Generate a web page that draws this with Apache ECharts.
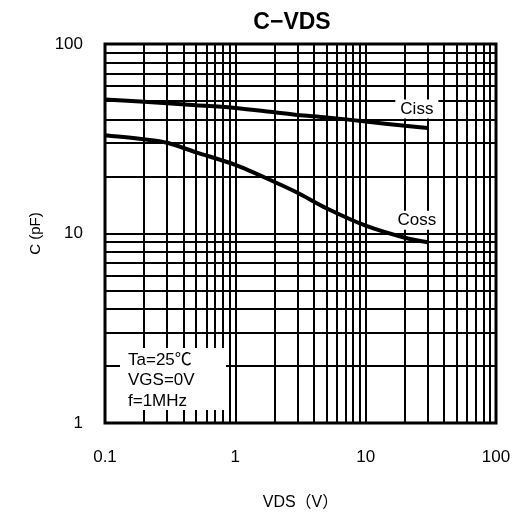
<!DOCTYPE html>
<html>
<head>
<meta charset="utf-8">
<script src="https://cdn.jsdelivr.net/npm/echarts@6/dist/echarts.min.js"></script>
<style>
  html, body { margin: 0; padding: 0; background: #fff; }
  #chart { width: 517px; height: 519px; }
</style>
</head>
<body>
<div id="chart"></div>
<script>
// Drain-source voltage samples (V)
const vds = [0.1, 0.2, 0.3, 0.5, 1, 2, 3, 5, 10, 20, 30];
// Input capacitance (pF)
const ciss = [51, 49.6, 48.7, 47.5, 46, 43.6, 42.2, 41, 39, 37, 36];
// Output capacitance (pF)
const coss = [33, 31.4, 30.1, 26.8, 23, 18.7, 16.4, 13.6, 11, 9.5, 9];

// Axis ticks
const xTicks = [0.1, 1, 10, 100];
const yTicks = [1, 10, 100];

// Minor grid positions (2..9 within each decade)
const xMinor = [];
[0.1, 1, 10].forEach(d => { for (let k = 2; k <= 9; k++) xMinor.push(+(d * k).toPrecision(3)); });
const yMinor = [];
[1, 10].forEach(d => { for (let k = 2; k <= 9; k++) yMinor.push(+(d * k).toPrecision(3)); });

const FONT = '"Liberation Sans", Arial, "Noto Sans CJK JP", sans-serif';

const chart = echarts.init(document.getElementById('chart'), null, { renderer: 'canvas' });

const gridLines = [];
xMinor.concat(xTicks).forEach(v => gridLines.push({ xAxis: v }));
yMinor.concat(yTicks).forEach(v => gridLines.push({ yAxis: v }));

chart.setOption({
  animation: false,
  backgroundColor: '#fff',
  textStyle: { fontFamily: FONT },
  grid: { left: 105, right: 21, top: 44, bottom: 96, containLabel: false },
  xAxis: {
    type: 'log', logBase: 10, min: 0.1, max: 100,
    name: 'VDS（V）', nameLocation: 'middle', nameGap: 72,
    nameTextStyle: { fontSize: 16, color: '#000', fontFamily: FONT },
    axisLine: { show: false },
    axisTick: { show: false },
    splitLine: { show: false },
    axisLabel: {
      color: '#000', fontSize: 17, margin: 26, fontFamily: FONT,
      formatter: v => {
        const t = xTicks.find(x => Math.abs(x - v) / x < 1e-6);
        return t === undefined ? '' : String(t);
      }
    }
  },
  yAxis: {
    type: 'log', logBase: 10, min: 1, max: 100,
    name: 'C (pF)', nameLocation: 'middle', nameGap: 49,
    nameTextStyle: { fontSize: 15, color: '#000', fontFamily: FONT },
    axisLine: { show: false },
    axisTick: { show: false },
    splitLine: { show: false },
    axisLabel: {
      color: '#000', fontSize: 17, margin: 22, fontFamily: FONT,
      formatter: v => {
        const t = yTicks.find(y => Math.abs(y - v) / y < 1e-6);
        return t === undefined ? '' : String(t);
      }
    }
  },
  graphic: [
    {
      type: 'text', x: 292, y: 11, zlevel: 1,
      style: { text: 'C−VDS', font: 'bold 23px ' + FONT, fill: '#000', textAlign: 'center' }
    },
    {
      type: 'rect', shape: { x: 105, y: 44, width: 391, height: 379 }, zlevel: 1,
      style: { fill: 'none', stroke: '#000', lineWidth: 3 }
    },
    {
      type: 'rect', shape: { x: 120, y: 348, width: 106, height: 62 }, zlevel: 1,
      style: { fill: '#fff' }
    },
    {
      type: 'text', x: 128, y: 350, zlevel: 1, z: 10,
      style: { text: 'Ta=25℃\nVGS=0V\nf=1MHz', font: '17px ' + FONT, fill: '#000', lineHeight: 20.5 }
    }
  ],
  series: [
    {
      type: 'line', data: [], silent: true, z: 1,
      markLine: {
        silent: true, symbol: 'none', animation: false,
        label: { show: false },
        lineStyle: { color: '#000', width: 2, type: 'solid' },
        data: gridLines
      }
    },
    {
      name: 'Ciss', type: 'line', z: 3, smooth: 0.3, symbol: 'none',
      lineStyle: { color: '#000', width: 4 },
      data: vds.map((v, i) => [v, ciss[i]]),
      markPoint: {
        symbol: 'rect', symbolSize: 0,
        data: [{ coord: [vds[vds.length - 1], ciss[ciss.length - 1]] }],
        label: {
          show: true, formatter: 'Ciss', color: '#000', fontSize: 17, fontFamily: FONT,
          backgroundColor: '#fff', padding: [1, 5, 1, 5], offset: [-11, -19]
        }
      }
    },
    {
      name: 'Coss', type: 'line', z: 3, smooth: 0.3, symbol: 'none',
      lineStyle: { color: '#000', width: 4 },
      data: vds.map((v, i) => [v, coss[i]]),
      markPoint: {
        symbol: 'rect', symbolSize: 0,
        data: [{ coord: [vds[vds.length - 1], coss[coss.length - 1]] }],
        label: {
          show: true, formatter: 'Coss', color: '#000', fontSize: 17, fontFamily: FONT,
          backgroundColor: '#fff', padding: [1, 5, 1, 5], offset: [-11, -22]
        }
      }
    }
  ]
});
</script>
</body>
</html>
